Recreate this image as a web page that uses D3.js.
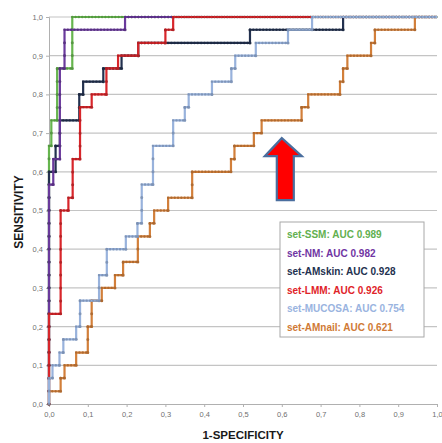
<!DOCTYPE html>
<html><head><meta charset="utf-8">
<script src="https://cdn.jsdelivr.net/npm/d3@7"></script>
<style>body{margin:0;background:#fff}svg{display:block}</style></head>
<body><svg id="c" width="442" height="443"></svg>
<script>
// ---- data ----
const xTicks = [0,0.1,0.2,0.3,0.4,0.5,0.6,0.7,0.8,0.9,1.0];
const yTicks = [0,0.1,0.2,0.3,0.4,0.5,0.6,0.7,0.8,0.9,1.0];
const seriesNames = ["set-SSM","set-NM","set-AMskin","set-LMM","set-MUCOSA","set-AMnail"];
const aucValues = ["0.989","0.982","0.928","0.926","0.754","0.621"];
const seriesColors = ["#66b54e","#6a3a9c","#23314f","#d8262b","#98b2dc","#d27f3a"];
const legendColors = ["#62b04f","#7035a3","#23314f","#df2329","#9ab4df","#d07a36"];

const ssm = [[0,0],[0,0.667],[0.006,0.667],[0.006,0.733],[0.021,0.733],[0.021,0.867],[0.06,0.867],[0.06,1],[1,1]];
const nm = [[0,0],[0,0.567],[0.011,0.567],[0.011,0.633],[0.028,0.633],[0.028,0.867],[0.04,0.867],[0.04,0.967],[0.196,0.967],[0.196,1],[1,1]];
const amskin = [[0,0],[0,0.6],[0.017,0.6],[0.017,0.667],[0.028,0.667],[0.028,0.733],[0.078,0.733],[0.078,0.8],[0.088,0.8],[0.088,0.833],[0.14,0.833],[0.14,0.867],[0.187,0.867],[0.187,0.9],[0.23,0.9],[0.23,0.933],[0.518,0.933],[0.518,0.967],[0.758,0.967],[0.758,1],[1,1]];
const lmm = [[0,0],[0,0.233],[0.03,0.233],[0.03,0.5],[0.05,0.5],[0.05,0.533],[0.061,0.533],[0.061,0.633],[0.08,0.633],[0.08,0.767],[0.11,0.767],[0.11,0.8],[0.148,0.8],[0.148,0.867],[0.178,0.867],[0.178,0.9],[0.23,0.9],[0.23,0.933],[0.3,0.933],[0.3,0.967],[0.32,0.967],[0.32,1],[1,1]];
const mucosa = [[0,0],[0,0.067],[0.009,0.067],[0.009,0.1],[0.027,0.1],[0.027,0.133],[0.037,0.133],[0.037,0.167],[0.07,0.167],[0.07,0.2],[0.08,0.2],[0.08,0.267],[0.129,0.267],[0.129,0.333],[0.149,0.333],[0.149,0.4],[0.198,0.4],[0.198,0.433],[0.228,0.433],[0.228,0.467],[0.239,0.467],[0.239,0.567],[0.268,0.567],[0.268,0.667],[0.32,0.667],[0.32,0.733],[0.35,0.733],[0.35,0.767],[0.36,0.767],[0.36,0.8],[0.42,0.8],[0.42,0.833],[0.47,0.833],[0.47,0.867],[0.48,0.867],[0.48,0.9],[0.533,0.9],[0.533,0.933],[0.616,0.933],[0.616,0.967],[0.678,0.967],[0.678,1],[1,1]];
const amnail = [[0,0],[0,0.033],[0.03,0.033],[0.03,0.067],[0.04,0.067],[0.04,0.1],[0.07,0.1],[0.07,0.133],[0.1,0.133],[0.1,0.2],[0.11,0.2],[0.11,0.267],[0.136,0.267],[0.136,0.3],[0.17,0.3],[0.17,0.333],[0.191,0.333],[0.191,0.367],[0.229,0.367],[0.229,0.433],[0.26,0.433],[0.26,0.467],[0.271,0.467],[0.271,0.5],[0.307,0.5],[0.307,0.533],[0.369,0.533],[0.369,0.6],[0.469,0.6],[0.469,0.633],[0.478,0.633],[0.478,0.667],[0.528,0.667],[0.528,0.7],[0.548,0.7],[0.548,0.733],[0.651,0.733],[0.651,0.767],[0.668,0.767],[0.668,0.8],[0.75,0.8],[0.75,0.833],[0.758,0.833],[0.758,0.867],[0.769,0.867],[0.769,0.9],[0.83,0.9],[0.83,0.933],[0.84,0.933],[0.84,0.967],[0.943,0.967],[0.943,1],[1,1]];
const seriesData = [ssm, nm, amskin, lmm, mucosa, amnail];
const drawOrder = [0,2,1,3,5,4];
const arrowTip = [0.60, 0.687];

// ---- chart ----
const svg = d3.select("#c");
const x = d3.scaleLinear().domain([0,1]).range([49,437]);
const y = d3.scaleLinear().domain([0,1]).range([404,17]);
const fmt = d => d3.format(".1f")(d).replace(".",",");

// gridlines
svg.append("g").selectAll("line").data(yTicks.filter(d=>d>0)).join("line")
  .attr("x1",x(0)).attr("x2",x(1)).attr("y1",d=>y(d)).attr("y2",d=>y(d))
  .attr("stroke","#c4c4c4").attr("stroke-width",1.2);

const ax = svg.append("g").attr("transform",`translate(0,${y(0)})`)
  .call(d3.axisBottom(x).tickValues(xTicks).tickFormat(fmt).tickSize(3).tickPadding(4.5));
const ay = svg.append("g").attr("transform",`translate(${x(0)},0)`)
  .call(d3.axisLeft(y).tickValues(yTicks).tickFormat(fmt).tickSize(3).tickPadding(3));
[ax,ay].forEach(g=>{
  g.select(".domain").attr("stroke","#b0b0b0").attr("stroke-width",1);
  g.selectAll(".tick line").attr("stroke","#b0b0b0");
  g.selectAll("text").attr("font-family","'Liberation Sans', Arial, sans-serif")
    .attr("font-size",7.5).attr("fill","#707070");
});

const line = d3.line().x(d=>x(d[0])).y(d=>y(d[1]));
const vStep = y(0) - y(1/30);
drawOrder.forEach(i=>{
  const pts = seriesData[i];
  const col = seriesColors[i];
  const dot = d3.color(col).darker(0.6).formatHex();
  const g = svg.append("g");
  g.append("path").attr("d", line(pts)).attr("fill","none")
    .attr("stroke", col).attr("stroke-width", 2.2).attr("stroke-linejoin","miter");
  const segs = d3.pairs(pts);
  g.selectAll("line.h").data(segs.filter(s=>s[0][1]===s[1][1] && s[0][0]!==s[1][0])).join("line")
    .attr("x1",s=>x(s[0][0])).attr("x2",s=>x(s[1][0])).attr("y1",s=>y(s[0][1])).attr("y2",s=>y(s[1][1]))
    .attr("stroke",dot).attr("stroke-width",2.4).attr("stroke-linecap","round")
    .attr("stroke-dasharray","0.01 3.3").attr("opacity",0.85);
  g.selectAll("line.v").data(segs.filter(s=>s[0][0]===s[1][0] && s[0][1]!==s[1][1])).join("line")
    .attr("x1",s=>x(s[0][0])).attr("x2",s=>x(s[1][0])).attr("y1",s=>y(s[0][1])).attr("y2",s=>y(s[1][1]))
    .attr("stroke",dot).attr("stroke-width",3).attr("stroke-linecap","round")
    .attr("stroke-dasharray",`0.01 ${vStep}`).attr("opacity",0.85);
});

// arrow annotation
const tx = x(arrowTip[0]), ty = y(arrowTip[1]);
const arrowPts = [[tx,ty],[tx+20,ty+18],[tx+12,ty+18],[tx+12,ty+62],[tx-5,ty+62],[tx-5,ty+18],[tx-17,ty+18]];
svg.append("polygon").attr("points", arrowPts.map(p=>p.join(",")).join(" "))
  .attr("fill","#ff0000").attr("stroke","#4a6e9e").attr("stroke-width",2.2).attr("stroke-linejoin","miter");

// legend
const lg = svg.append("g");
lg.append("rect").attr("x",280).attr("y",222).attr("width",144).attr("height",115)
  .attr("fill","#fff").attr("stroke","#a8a8a8").attr("stroke-width",1);
lg.selectAll("text").data(seriesNames).join("text")
  .attr("x",287).attr("y",(d,i)=>238 + i*18.6)
  .attr("font-family","'Liberation Sans', Arial, sans-serif").attr("font-weight","bold")
  .attr("font-size",10).attr("fill",(d,i)=>legendColors[i])
  .text((d,i)=>`${d}: AUC ${aucValues[i]}`);

// axis titles
svg.append("text").attr("x",243).attr("y",439).attr("text-anchor","middle")
  .attr("font-family","'Liberation Sans', Arial, sans-serif").attr("font-weight","bold")
  .attr("font-size",11.5).attr("fill","#1a1a1a").text("1-SPECIFICITY");
svg.append("text").attr("transform","translate(23,212) rotate(-90)").attr("text-anchor","middle")
  .attr("font-family","'Liberation Sans', Arial, sans-serif").attr("font-weight","bold")
  .attr("font-size",12).attr("fill","#1a1a1a").text("SENSITIVITY");
</script></body></html>
